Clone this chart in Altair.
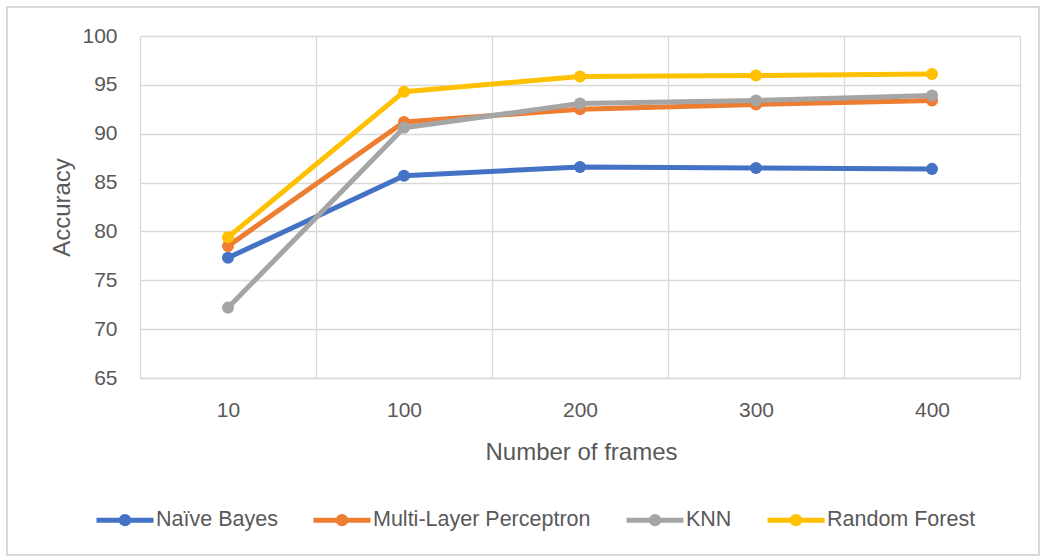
import altair as alt
import pandas as pd

frames = ["10", "100", "200", "300", "400"]
series = ["Naïve Bayes", "Multi-Layer Perceptron", "KNN", "Random Forest"]
naive_bayes = [77.3, 85.7, 86.6, 86.5, 86.4]
mlp = [78.5, 91.2, 92.5, 93.0, 93.4]
knn = [72.2, 90.6, 93.1, 93.4, 93.9]
random_forest = [79.4, 94.3, 95.85, 95.95, 96.1]
colors = ["#4472C4", "#ED7D31", "#A5A5A5", "#FFC000"]
y_ticks = [65, 70, 75, 80, 85, 90, 95, 100]

rows = []
for name, vals in zip(series, [naive_bayes, mlp, knn, random_forest]):
    for f, v in zip(frames, vals):
        rows.append({"Frames": f, "Accuracy": v, "Model": name})
df = pd.DataFrame(rows)

FONT = "Liberation Sans"
TXT = "#595959"
GRID = "#D9D9D9"

x_enc = alt.X(
    "Frames:O", sort=frames,
    scale=alt.Scale(paddingInner=0, paddingOuter=0),
    axis=alt.Axis(
        title="Number of frames", labelAngle=0, ticks=False, tickSize=0,
        tickBand="extent", grid=True, gridColor=GRID, gridWidth=1.3,
        domainColor=GRID, domainWidth=1.3,
        labelFont=FONT, labelFontSize=21, labelColor=TXT, labelPadding=38,
        labelBaseline="alphabetic",
        titleFont=FONT, titleFontSize=24, titleColor=TXT, titleFontWeight="normal",
        titleX=441, titleY=81, titleBaseline="alphabetic", titleAlign="center",
    ),
)
y_enc = alt.Y(
    "Accuracy:Q",
    scale=alt.Scale(domain=[65, 100], nice=False, zero=False),
    axis=alt.Axis(
        title="Accuracy", values=y_ticks, ticks=False, tickSize=0, domain=False,
        grid=True, gridColor=GRID, gridWidth=1.3,
        labelFont=FONT, labelFontSize=21, labelColor=TXT, labelPadding=23,
        titleFont=FONT, titleFontSize=24, titleColor=TXT, titleFontWeight="normal",
        titleX=-78, titleY=171, titleAngle=270, titleBaseline="middle", titleAlign="center",
    ),
)

legend_symbol = ("M-1,0 L1,0 M-0.13,0 A0.13,0.13 0 1,1 0.13,0 "
                 "A0.13,0.13 0 1,1 -0.13,0 Z")
color_enc = alt.Color(
    "Model:N", sort=series,
    scale=alt.Scale(domain=series, range=colors),
    legend=alt.Legend(
        title=None, orient="none", direction="horizontal",
        legendX=-46, legendY=453, padding=0,
        symbolType=legend_symbol, symbolSize=3249, symbolStrokeWidth=5,
        labelFont=FONT, labelFontSize=21.5, labelColor=TXT, labelOffset=0,
        labelLimit=400, columnPadding=25,
    ),
)

lines = alt.Chart(df).mark_line(strokeWidth=5, strokeCap="round", strokeJoin="round").encode(
    x=x_enc, y=y_enc, color=color_enc, order=alt.Order("Frames:O")
)
points = alt.Chart(df).mark_point(filled=True, size=145, opacity=1).encode(
    x=alt.X("Frames:O", sort=frames), y="Accuracy:Q", color=alt.Color("Model:N", sort=series)
)
frame = alt.Chart(df).mark_rect(fill=None, stroke=GRID, strokeWidth=1.5).encode(
    x=alt.value(-133), x2=alt.value(899), y=alt.value(-29), y2=alt.value(519)
)

chart = alt.layer(frame, lines, points).properties(
    width=880, height=342,
    autosize=alt.AutoSizeParams(type="none"),
    padding={"left": 140, "top": 36, "right": 21, "bottom": 179},
).configure_view(stroke=None).configure(background="white")

chart.save("out.html", embed_options={"renderer": "svg", "actions": False})
